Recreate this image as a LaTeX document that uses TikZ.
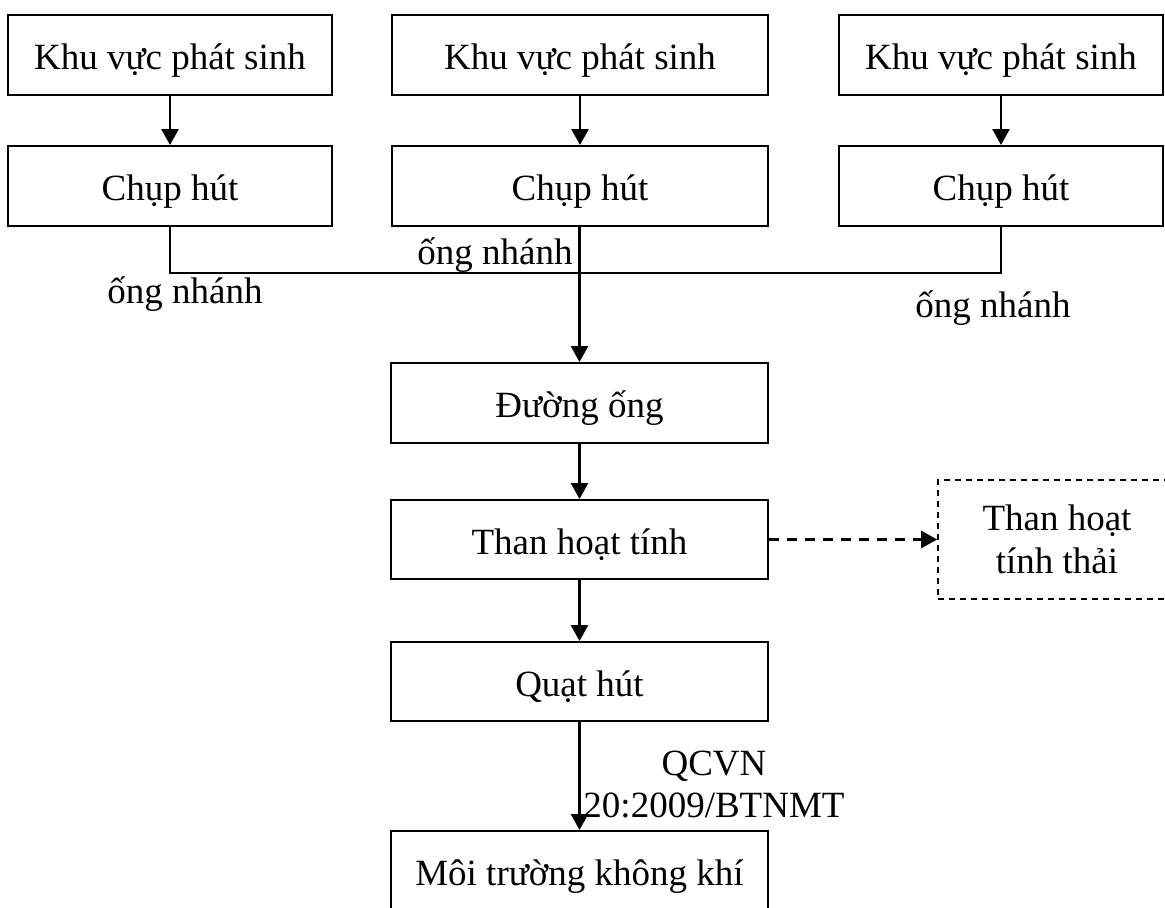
\documentclass[tikz,border=0pt]{standalone}
\usepackage{fontspec}
\setmainfont{Liberation Serif}
\usetikzlibrary{arrows.meta}

\tikzset{
  box/.style={draw,line width=1pt,minimum height=40pt,inner sep=0pt,
    text height=16pt,text depth=1.5pt,
    font=\fontsize{18.5}{21}\selectfont},
  wastebox/.style={draw,dash pattern=on 3pt off 2.5pt,line width=0.8pt,inner sep=0pt,
    font=\fontsize{18.5}{21.5}\selectfont,
    minimum width=119pt,minimum height=59.5pt,align=center},
  lbl/.style={inner sep=0pt,font=\fontsize{18.5}{21}\selectfont},
  pipe/.style={line width=1pt},
  flow/.style={->,line width=1.3pt},
  wasteflow/.style={->,line width=1.1pt,dash pattern=on 5pt off 4pt}
}

\begin{document}
\begin{tikzpicture}[x=0.5pt,y=-0.5pt,>={Triangle[length=8pt,width=8.5pt]}]

\useasboundingbox (0,0) rectangle (1165,907);

\node[box,minimum width=162pt] (kv1) at (170,54.5) {Khu vực phát sinh};
\node[box,minimum width=188pt] (kv2) at (580,54.5) {Khu vực phát sinh};
\node[box,minimum width=162pt] (kv3) at (1001,54.5) {Khu vực phát sinh};

\node[box,minimum width=162pt] (ch1) at (170,186) {Chụp hút};
\node[box,minimum width=188pt] (ch2) at (580,186) {Chụp hút};
\node[box,minimum width=162pt] (ch3) at (1001,186) {Chụp hút};

\node[box,minimum width=188.5pt] (dong) at (579.5,403) {Đường ống};
\node[box,minimum width=188.5pt,minimum height=39.5pt] (than) at (579.5,539.5) {Than hoạt tính};
\node[box,minimum width=188.5pt,minimum height=39.5pt] (quat) at (579.5,681.5) {Quạt hút};
\node[box,minimum width=188.5pt] (moi) at (579.5,871) {Môi trường không khí};

\node[wastebox] (thai) at (1057,539.5) {Than hoạt\\tính thải};

\draw[flow] (kv1) -- (ch1);
\draw[flow] (kv2) -- (ch2);
\draw[flow] (kv3) -- (ch3);

\coordinate (nhanh) at (579.5,273);
\draw[pipe] (ch1.south) |- (nhanh);
\draw[pipe] (ch3.south) |- (nhanh);

\draw[flow] (ch2.south -| dong.north) -- (dong);
\draw[flow] (dong) -- (than);
\draw[flow] (than) -- (quat);
\draw[flow] (quat) -- (moi);
\draw[wasteflow] (than) -- (thai);

\node[lbl] (on1) at (185,294) {ống nhánh};
\node[lbl,anchor=east] (on2) at (573,255) {ống nhánh};
\node[lbl] (on3) at (993,308) {ống nhánh};

\node[lbl,align=center] (qcvn) at (714,784) {QCVN\\20:2009/BTNMT};

\end{tikzpicture}
\end{document}
